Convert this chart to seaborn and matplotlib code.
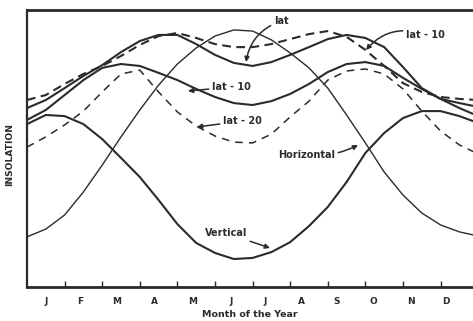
import numpy as np
import pandas as pd
import matplotlib
matplotlib.use("Agg")
import matplotlib.pyplot as plt
import seaborn as sns

# ---- data (x in months from 1 Jan, y in relative insolation units) ----
months = np.arange(0, 12.01, 0.5)
horizontal = [18.1, 20.9, 26.0, 34.3, 44.0, 54.2, 63.9, 72.9, 80.5, 86.3, 90.6, 92.8, 92.4,
              89.2, 84.5, 79.1, 71.8, 62.1, 52.0, 41.5, 33.2, 26.7, 22.4, 19.9, 18.4]
vertical = [58.8, 62.1, 61.7, 58.8, 53.4, 46.6, 39.7, 31.4, 22.7, 15.9, 12.3, 10.1, 10.5,
            12.6, 16.2, 22.0, 28.9, 37.9, 48.4, 55.6, 61.0, 63.5, 63.5, 61.7, 59.2]
lat = [64.6, 67.5, 71.8, 76.2, 80.1, 84.8, 88.8, 91.0, 91.0, 87.7, 83.8, 80.9, 79.8,
       81.2, 83.8, 86.6, 89.5, 91.0, 89.9, 86.6, 79.4, 71.8, 67.9, 66.4, 65.0]
lat_top_dashed = [67.5, 69.3, 73.3, 76.9, 79.8, 83.4, 87.4, 90.6, 91.7, 89.9, 87.7, 86.6, 86.6,
                  87.7, 89.5, 91.3, 92.4, 90.3, 85.6, 79.8, 73.6, 70.4, 68.6, 67.9, 67.5]
lat_minus10 = [60.3, 63.9, 69.3, 74.7, 79.1, 80.5, 79.8, 77.3, 74.7, 71.5, 68.6, 66.4, 65.7,
               67.1, 69.7, 73.3, 77.6, 80.5, 81.2, 79.8, 75.5, 71.5, 67.9, 64.6, 61.7]
lat_minus20 = [50.5, 54.2, 58.5, 63.5, 70.4, 76.9, 78.3, 70.4, 63.2, 58.1, 54.5, 52.3, 52.0,
               55.2, 61.4, 67.1, 74.7, 78.0, 78.7, 76.9, 71.5, 63.5, 56.3, 51.3, 48.0]
month_labels = ["J", "F", "M", "A", "M", "J", "J", "A", "S", "O", "N", "D"]
label_pos = [0.51, 1.41, 2.39, 3.40, 4.41, 5.43, 6.33, 7.29, 8.24, 9.20, 10.21, 11.14]
tick_pos = [1.0, 2.0, 3.0, 4.0, 5.0, 6.0, 7.0, 8.0, 9.0, 10.0, 11.0]

sns.set_style("white")
plt.rcParams["font.family"] = ["DejaVu Sans"]

ink = "#2b2b2b"
W, H = 473, 321
fig = plt.figure(figsize=(W / 100, H / 100), dpi=100)
ax = fig.add_axes([27 / W, 34 / H, 446 / W, 277 / H])

PXM = 37.6   # pixels per month
PXV = 2.77   # pixels per y unit


def d(px, py):
    """pixel position in the picture -> data coordinates (layout helper for labels)"""
    return ((px - 27) / PXM, (287 - py) / PXV)


styles = [
    (horizontal, dict(linewidth=1.0, linestyle="-")),
    (vertical, dict(linewidth=1.5, linestyle="-")),
    (lat, dict(linewidth=1.5, linestyle="-")),
    (lat_minus10, dict(linewidth=1.5, linestyle="-")),
    (lat_top_dashed, dict(linewidth=1.5, linestyle=(0, (4.2, 2.6)))),
    (lat_minus20, dict(linewidth=1.1, linestyle=(0, (5.0, 4.0)))),
]
for vals, kw in styles:
    sns.lineplot(x=months, y=vals, ax=ax, color=ink, **kw)

ax.set_xlim(0, 446 / PXM)
ax.set_ylim(0, 100)

for side in ["top", "left", "bottom"]:
    ax.spines[side].set_visible(True)
    ax.spines[side].set_color(ink)
ax.spines["top"].set_linewidth(2.0)
ax.spines["left"].set_linewidth(1.6)
ax.spines["bottom"].set_linewidth(2.0)
ax.spines["right"].set_visible(False)

ax.set_yticks([])
ax.set_xticks(tick_pos)
ax.set_xticklabels([])
ax.tick_params(axis="x", which="major", direction="in", length=4, width=1.0, color=ink, bottom=True)
ax.set_xticks(label_pos, minor=True)
ax.set_xticklabels(month_labels, minor=True, fontsize=6.5, fontweight="bold", color=ink)
ax.tick_params(axis="x", which="minor", length=0, pad=7)

ax.set_xlabel("Month of the Year", fontsize=6.8, fontweight="bold", color=ink, labelpad=3)
ax.set_ylabel("INSOLATION", fontsize=6.6, fontweight="bold", color=ink)
ax.yaxis.set_label_coords(-13 / 446, (287 - 155) / 277)

arrow = dict(arrowstyle="-|>", color=ink, lw=1.1, mutation_scale=7, shrinkA=0, shrinkB=0)


def note(text, txy, tip, ha, rad=0.0):
    ax.annotate(text, xy=d(*tip), xytext=d(*txy), ha=ha, va="center",
                fontsize=7, fontweight="bold", color=ink,
                arrowprops=dict(arrow, connectionstyle=f"arc3,rad={rad}"))


note("lat", (274, 21), (246, 62), "left", rad=0.3)
note("lat - 10", (212, 87), (188, 91), "left", rad=0.0)
note("lat - 20", (223, 121), (197, 127), "left", rad=0.0)
note("lat - 10", (406, 35), (366, 50), "left", rad=0.35)
note("Horizontal", (335, 155), (358, 145), "right", rad=0.15)
note("Vertical", (247, 233), (270, 248), "right", rad=0.0)

fig.savefig("out.png", dpi=100)
